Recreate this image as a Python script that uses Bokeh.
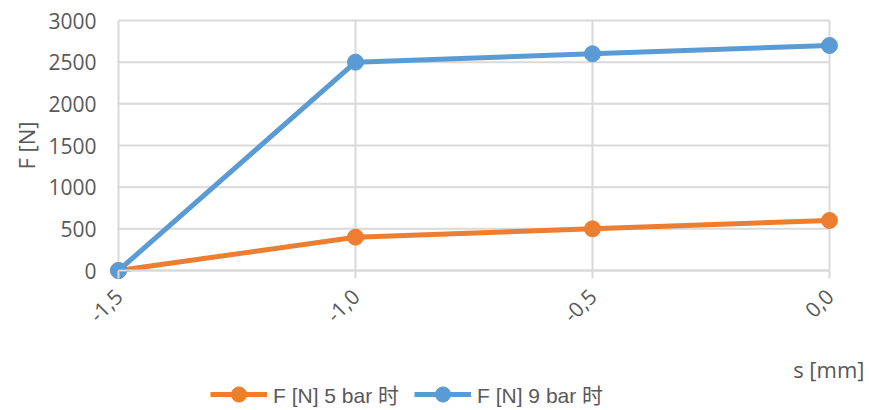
import math
from bokeh.plotting import figure
from bokeh.models import (Range1d, FixedTicker, CustomJSTickFormatter, Legend,
                          LegendItem, Label)
from bokeh.embed import file_html
from bokeh.resources import INLINE

# ---- data ----
s_mm = [-1.5, -1.0, -0.5, 0.0]
f_5bar = [0, 400, 500, 600]
f_9bar = [0, 2500, 2600, 2700]
x_ticks = [-1.5, -1.0, -0.5, 0.0]
x_tick_labels = ["-1,5", "-1,0", "-0,5", "0,0"]
y_ticks = [0, 500, 1000, 1500, 2000, 2500, 3000]
series_names = ["F [N] 5 bar 时", "F [N] 9 bar 时"]
x_title = "s [mm]"
y_title = "F [N]"

ORANGE = "#ED7D31"
BLUE = "#5B9BD5"
GRID = "#D9D9D9"
TXT = "#595959"
FONT = "Open Sans"
LFONT = "Liberation Sans, 'Noto Sans CJK SC'"

# ---- layout (pixels) ----
W, H = 869, 410
PL, PR, PT, PB = 118, 829, 20, 270      # plot-area edges on the canvas
x0, x1 = x_ticks[0], x_ticks[-1]
y0, y1 = y_ticks[0], y_ticks[-1]
dx = (x1 - x0) / (PR - PL)
dy = (y1 - y0) / (PB - PT)

p = figure(frame_width=W, frame_height=H,
           min_border=0, min_border_left=0, min_border_right=0,
           min_border_top=0, min_border_bottom=0,
           x_range=Range1d(x0 - PL * dx, x1 + (W - PR) * dx),
           y_range=Range1d(y0 - (H - PB) * dy, y1 + PT * dy),
           output_backend="svg", toolbar_location=None)
p.outline_line_color = None
p.background_fill_color = "white"
p.border_fill_color = "white"
p.grid.visible = False

# grid lines limited to the plot area
p.segment(x0=[x0] * len(y_ticks), y0=y_ticks, x1=[x1] * len(y_ticks), y1=y_ticks,
          line_color=GRID, line_width=2)
p.segment(x0=x_ticks, y0=[y0] * len(x_ticks), x1=x_ticks, y1=[y1] * len(x_ticks),
          line_color=GRID, line_width=2)

# x axis at y = 0
xa = p.xaxis[0]
xa.fixed_location = y0
xa.bounds = (x0, x1)
xa.ticker = FixedTicker(ticks=x_ticks)
xa.formatter = CustomJSTickFormatter(args=dict(tvals=x_ticks, tlabels=x_tick_labels), code="""
for (let i = 0; i < tvals.length; i++) {
  if (Math.abs(tvals[i] - tick) < 1e-9) return tlabels[i];
}
return tick.toFixed(1).replace('.', ',');
""")
xa.major_label_orientation = math.pi / 4
xa.axis_line_color = GRID
xa.axis_line_width = 2
xa.major_tick_line_color = GRID
xa.major_tick_line_width = 2
xa.major_tick_out = 8
xa.major_tick_in = 0
xa.minor_tick_line_color = None
xa.major_label_standoff = 14
xa.major_label_text_font = FONT
xa.major_label_text_font_size = "21px"
xa.major_label_text_color = TXT

# y axis at x = -1.5
ya = p.yaxis[0]
ya.fixed_location = x0
ya.bounds = (y0, y1)
ya.ticker = FixedTicker(ticks=y_ticks)
ya.axis_line_color = None
ya.major_tick_line_color = None
ya.minor_tick_line_color = None
ya.major_tick_out = 0
ya.major_tick_in = 0
ya.major_label_standoff = 22
ya.major_label_text_font = FONT
ya.major_label_text_font_size = "21px"
ya.major_label_text_color = TXT

# series
l5 = p.line(s_mm, f_5bar, line_color=ORANGE, line_width=5)
m5 = p.scatter(s_mm, f_5bar, size=16, fill_color=ORANGE, line_color=ORANGE)
l9 = p.line(s_mm, f_9bar, line_color=BLUE, line_width=5)
m9 = p.scatter(s_mm, f_9bar, size=16, fill_color=BLUE, line_color=BLUE)

legend = Legend(items=[LegendItem(label=series_names[0], renderers=[l5, m5]),
                       LegendItem(label=series_names[1], renderers=[l9, m9])],
                location=(210, -3), orientation="horizontal")
legend.padding = 0
legend.margin = 0
legend.spacing = 15
legend.border_line_color = None
legend.background_fill_alpha = 0
legend.glyph_width = 57
legend.glyph_height = 38
legend.label_standoff = 6
legend.label_height = 38
legend.label_text_font = LFONT
legend.label_text_font_size = "21px"
legend.label_text_color = TXT
p.add_layout(legend, "center")

xl = Label(x=864, y=H - 368, x_units="screen", y_units="screen", text=x_title,
           text_align="right", text_baseline="middle",
           text_font=FONT, text_font_size="22px", text_color=TXT)
p.add_layout(xl)

yl = Label(x=25, y=H - 145, x_units="screen", y_units="screen", text=y_title,
           angle=math.pi / 2, text_align="center", text_baseline="middle",
           text_font=FONT, text_font_size="22px", text_color=TXT)
p.add_layout(yl)

open("out.html", "w").write(file_html(p, INLINE))
